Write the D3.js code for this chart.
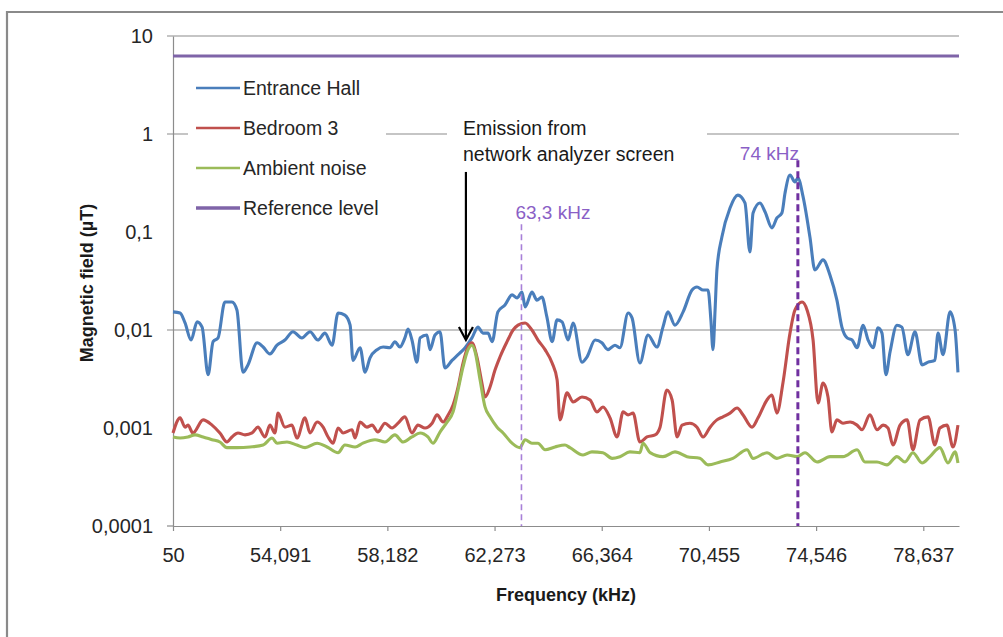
<!DOCTYPE html>
<html><head><meta charset="utf-8">
<script src="https://cdn.jsdelivr.net/npm/d3@7"></script>
<style>
body{margin:0;background:#fff}
svg{display:block}
text{font-family:"Liberation Sans",Arial,sans-serif}
</style>
</head><body>
<svg id="chart" width="1003" height="637"></svg>
<script>
// ---------- data ----------
const xTickValues = [50, 54.091, 58.182, 62.273, 66.364, 70.455, 74.546, 78.637];
const xTickLabels = ["50", "54,091", "58,182", "62,273", "66,364", "70,455", "74,546", "78,637"];
const yTickValues = [10, 1, 0.1, 0.01, 0.001, 0.0001];
const yTickLabels = ["10", "1", "0,1", "0,01", "0,001", "0,0001"];
const gridValues = [10, 1, 0.01];
const seriesNames = ["Entrance Hall", "Bedroom 3", "Ambient noise", "Reference level"];
const seriesColors = ["#4a7ebb", "#c0504d", "#9bbb59", "#7f64a8"];

// [frequency kHz, magnetic field µT]
const entranceHall = [[50.00,0.0153],[50.27,0.0149],[50.46,0.0118],[50.69,0.0079],[50.92,0.0121],[51.11,0.0107],[51.34,0.0035],[51.53,0.0076],[51.72,0.0083],[51.98,0.0193],[52.25,0.0193],[52.44,0.016],[52.67,0.0037],[52.86,0.0044],[53.21,0.0074],[53.44,0.0067],[53.70,0.0057],[53.97,0.0070],[54.27,0.0079],[54.58,0.0096],[54.92,0.0083],[55.23,0.0096],[55.53,0.0079],[55.80,0.0093],[56.07,0.0070],[56.30,0.0149],[56.56,0.0142],[56.76,0.0112],[56.87,0.0049],[57.14,0.0066],[57.33,0.0037],[57.52,0.0052],[57.79,0.0063],[58.02,0.0067],[58.28,0.0066],[58.47,0.0076],[58.66,0.0067],[58.85,0.0083],[58.97,0.0102],[59.12,0.0079],[59.31,0.0047],[59.43,0.0083],[59.69,0.0089],[59.81,0.0063],[60.00,0.0089],[60.19,0.0096],[60.38,0.0041],[60.65,0.0049],[60.88,0.0056],[61.15,0.0066],[61.41,0.0083],[61.64,0.0107],[61.83,0.0093],[62.02,0.0093],[62.18,0.0076],[62.40,0.0153],[62.67,0.018],[62.94,0.0228],[63.13,0.0212],[63.32,0.0244],[63.44,0.0172],[63.70,0.0244],[63.89,0.0202],[64.08,0.0217],[64.27,0.0136],[64.47,0.0076],[64.66,0.0127],[64.85,0.0121],[65.08,0.0079],[65.27,0.0118],[65.61,0.0047],[65.80,0.0053],[66.11,0.0079],[66.37,0.0074],[66.60,0.0063],[66.87,0.0070],[67.06,0.0066],[67.37,0.0149],[67.52,0.0133],[67.82,0.0046],[68.13,0.0089],[68.47,0.0067],[68.70,0.0107],[68.89,0.0153],[69.16,0.0112],[69.47,0.0153],[69.81,0.0256],[70.00,0.0275],[70.23,0.0256],[70.42,0.0256],[70.53,0.0127],[70.61,0.0063],[70.69,0.016],[70.76,0.041],[70.95,0.089],[71.26,0.176],[71.56,0.238],[71.83,0.198],[72.02,0.0625],[72.14,0.156],[72.40,0.198],[72.60,0.16],[72.86,0.11],[73.05,0.139],[73.24,0.156],[73.36,0.25],[73.55,0.382],[73.74,0.324],[73.85,0.356],[74.05,0.228],[74.31,0.089],[74.50,0.041],[74.81,0.052],[75.08,0.036],[75.34,0.0202],[75.53,0.0107],[75.73,0.0083],[75.92,0.0079],[76.11,0.0066],[76.34,0.0112],[76.53,0.0079],[76.72,0.0066],[76.91,0.0105],[77.06,0.0093],[77.21,0.0035],[77.37,0.006],[77.63,0.0112],[77.82,0.0107],[78.05,0.0056],[78.32,0.0096],[78.59,0.0044],[78.82,0.0047],[79.08,0.0049],[79.20,0.0093],[79.39,0.0056],[79.66,0.0153],[79.85,0.01],[79.96,0.0037]];

const bedroom3 = [[50.00,0.00089],[50.27,0.00127],[50.46,0.00102],[50.57,0.00107],[50.76,0.00089],[51.15,0.00121],[51.49,0.00107],[51.79,0.00089],[52.06,0.00072],[52.25,0.00081],[52.48,0.00089],[52.75,0.00085],[53.02,0.00089],[53.24,0.00102],[53.51,0.00081],[53.70,0.00107],[53.89,0.00089],[54.01,0.00142],[54.27,0.00102],[54.54,0.00107],[54.73,0.00079],[55.04,0.00127],[55.23,0.00089],[55.50,0.00115],[55.73,0.00102],[55.92,0.00081],[56.11,0.00070],[56.30,0.00100],[56.49,0.00089],[56.83,0.00096],[56.95,0.00079],[57.14,0.00115],[57.40,0.00102],[57.60,0.00107],[57.82,0.00091],[58.09,0.00112],[58.36,0.00100],[58.59,0.00112],[58.85,0.00130],[59.12,0.00089],[59.35,0.00107],[59.62,0.00100],[59.89,0.00112],[60.08,0.00136],[60.31,0.00115],[60.50,0.00136],[60.69,0.00172],[60.88,0.00262],[61.07,0.0046],[61.26,0.0067],[61.41,0.0074],[61.60,0.0053],[61.79,0.00288],[61.91,0.00207],[62.10,0.00262],[62.29,0.0039],[62.48,0.0053],[62.75,0.0076],[62.98,0.0100],[63.17,0.0112],[63.44,0.0118],[63.70,0.0100],[63.93,0.0079],[64.20,0.0063],[64.47,0.0046],[64.66,0.0031],[64.77,0.00121],[65.04,0.00228],[65.27,0.00184],[65.61,0.00207],[65.92,0.00193],[66.18,0.00146],[66.41,0.00164],[66.68,0.00127],[66.95,0.00081],[67.18,0.00146],[67.37,0.00136],[67.56,0.00142],[67.82,0.00072],[68.09,0.00081],[68.40,0.00085],[68.59,0.00102],[68.85,0.00244],[69.05,0.00193],[69.24,0.00081],[69.43,0.00107],[69.73,0.00112],[70.00,0.00102],[70.23,0.00081],[70.50,0.00102],[70.76,0.00121],[70.99,0.00130],[71.26,0.00142],[71.53,0.00160],[71.76,0.00136],[72.10,0.00102],[72.33,0.00127],[72.67,0.00193],[72.86,0.00217],[73.05,0.00142],[73.28,0.00288],[73.55,0.0093],[73.74,0.0160],[74.01,0.0193],[74.20,0.0160],[74.43,0.0079],[74.62,0.0018],[74.81,0.00288],[75.00,0.00207],[75.15,0.00091],[75.34,0.00121],[75.57,0.00112],[75.84,0.00115],[76.11,0.00107],[76.30,0.00096],[76.60,0.00136],[76.87,0.00096],[77.10,0.00107],[77.29,0.00100],[77.48,0.00067],[77.75,0.00107],[78.02,0.00121],[78.24,0.00060],[78.51,0.00121],[78.82,0.00130],[79.08,0.00067],[79.27,0.00100],[79.54,0.00107],[79.77,0.00064],[79.96,0.00107]];

const ambientNoise = [[50.00,0.00081],[50.27,0.00079],[50.57,0.00081],[50.84,0.00085],[51.15,0.00081],[51.49,0.00076],[51.79,0.00072],[52.06,0.00063],[52.44,0.00063],[52.94,0.00064],[53.44,0.00067],[53.78,0.00079],[53.97,0.00070],[54.35,0.00072],[54.73,0.00067],[55.04,0.00063],[55.50,0.00070],[55.88,0.00064],[56.30,0.00056],[56.56,0.00067],[56.95,0.00064],[57.25,0.00070],[57.71,0.00076],[58.09,0.00072],[58.47,0.00085],[58.78,0.00072],[59.12,0.00081],[59.43,0.00089],[59.73,0.00081],[59.92,0.00070],[60.19,0.00091],[60.46,0.00115],[60.69,0.00146],[60.88,0.00244],[61.07,0.0042],[61.26,0.0063],[61.41,0.0070],[61.53,0.0060],[61.72,0.0031],[61.91,0.00164],[62.10,0.00130],[62.37,0.00102],[62.60,0.00089],[62.94,0.00070],[63.24,0.00063],[63.44,0.00076],[63.70,0.00070],[63.93,0.00070],[64.20,0.00060],[64.58,0.00064],[64.96,0.00067],[65.15,0.00063],[65.65,0.00053],[65.99,0.00057],[66.41,0.00056],[66.76,0.00049],[67.06,0.00051],[67.44,0.00057],[67.82,0.00056],[67.94,0.00070],[68.21,0.00056],[68.70,0.00051],[69.16,0.00057],[69.62,0.00051],[70.11,0.00049],[70.42,0.00042],[70.88,0.00045],[71.37,0.00049],[71.91,0.00060],[72.14,0.00049],[72.67,0.00056],[73.05,0.00049],[73.44,0.00053],[73.82,0.00051],[74.12,0.00056],[74.58,0.00045],[75.08,0.00051],[75.57,0.00051],[76.11,0.00060],[76.41,0.00045],[76.87,0.00045],[77.25,0.00042],[77.63,0.00051],[77.94,0.00045],[78.24,0.00056],[78.59,0.00044],[78.89,0.00051],[79.27,0.00063],[79.58,0.00044],[79.85,0.00057],[79.96,0.00044]];

const referenceLevel = [[50, 6.25], [80, 6.25]];

const markerFreqs = [63.3, 73.85];
const markerTops = [0.12, 0.54];
const markerLabels = ["63,3 kHz", "74 kHz"];
const arrowFreq = 61.18, arrowFrom = 0.41, arrowTo = 0.0079;
const annotationLines = ["Emission from", "network analyzer screen"];

// ---------- drawing ----------
const svg = d3.select("#chart");
const x = d3.scaleLinear().domain([50, 80]).range([173, 959]);
const y = d3.scaleLog().domain([0.0001, 10]).range([526, 36]);
const axisColor = "#8c8c8c";

// outer border
svg.append("path").attr("d", "M7,640 V12 H1010")
  .attr("fill", "none").attr("stroke", "#8a8a8a").attr("stroke-width", 2.2);

// gridlines
svg.append("g").selectAll("line").data(gridValues).join("line")
  .attr("x1", 167).attr("x2", x(80))
  .attr("y1", d => y(d)).attr("y2", d => y(d))
  .attr("stroke", axisColor).attr("stroke-width", 1.2);

// white boxes (legend + annotation)
svg.append("rect").attr("x", 188).attr("y", 66).attr("width", 198).attr("height", 160).attr("fill", "#fff");
svg.append("rect").attr("x", 447).attr("y", 116).attr("width", 260).attr("height", 52).attr("fill", "#fff");

// y axis
const yAxis = d3.axisLeft(y).tickValues(yTickValues)
  .tickFormat((d, i) => yTickLabels[i]).tickSize(0).tickPadding(20);
const gy = svg.append("g").attr("transform", "translate(173,0)").call(yAxis);
gy.select(".domain").attr("stroke", axisColor).attr("stroke-width", 1.2);
gy.selectAll("text").attr("font-size", 20).attr("fill", "#262626")
  .attr("font-family", "'Liberation Sans', Arial, sans-serif");
svg.append("line").attr("x1", 167).attr("x2", 173).attr("y1", y(0.0001)).attr("y2", y(0.0001))
  .attr("stroke", axisColor).attr("stroke-width", 1.2);

// x axis
const xAxis = d3.axisBottom(x).tickValues(xTickValues)
  .tickFormat((d, i) => xTickLabels[i]).tickSizeInner(5).tickSizeOuter(0).tickPadding(17);
const gx = svg.append("g").attr("transform", `translate(0,${y(0.0001)})`).call(xAxis);
gx.select(".domain").attr("stroke", axisColor).attr("stroke-width", 1.2);
gx.selectAll(".tick line").attr("stroke", axisColor).attr("stroke-width", 1.2);
gx.selectAll("text").attr("font-size", 20).attr("fill", "#262626")
  .attr("font-family", "'Liberation Sans', Arial, sans-serif");

// axis titles
svg.append("text").attr("x", 566).attr("y", 601).attr("text-anchor", "middle")
  .attr("font-size", 18).attr("font-weight", "bold").attr("fill", "#1a1a1a").text("Frequency (kHz)");
svg.append("text").attr("transform", "translate(93,283) rotate(-90)").attr("text-anchor", "middle")
  .attr("font-size", 18).attr("font-weight", "bold").attr("fill", "#1a1a1a").text("Magnetic field (µT)");

// series
const line = d3.line().x(d => x(d[0])).y(d => y(d[1])).curve(d3.curveMonotoneX);
const allSeries = [entranceHall, bedroom3, ambientNoise];
svg.append("g").selectAll("path").data(allSeries).join("path")
  .attr("d", line).attr("fill", "none")
  .attr("stroke", (d, i) => seriesColors[i]).attr("stroke-width", 3.1)
  .attr("stroke-linejoin", "round");
svg.append("path").datum(referenceLevel).attr("d", d3.line().x(d => x(d[0])).y(d => y(d[1])))
  .attr("fill", "none").attr("stroke", seriesColors[3]).attr("stroke-width", 3.2);

// marker dashed lines
svg.append("line").attr("x1", x(markerFreqs[0])).attr("x2", x(markerFreqs[0]))
  .attr("y1", y(markerTops[0])).attr("y2", y(0.0001))
  .attr("stroke", "#a880d8").attr("stroke-width", 1.6).attr("stroke-dasharray", "6,4");
svg.append("line").attr("x1", x(markerFreqs[1])).attr("x2", x(markerFreqs[1]))
  .attr("y1", y(markerTops[1])).attr("y2", y(0.0001))
  .attr("stroke", "#7030a0").attr("stroke-width", 3).attr("stroke-dasharray", "7,4");
svg.append("text").attr("x", x(markerFreqs[0]) - 6).attr("y", y(markerTops[0]) - 5)
  .attr("font-size", 19).attr("fill", "#8a5fc6").text(markerLabels[0]);
svg.append("text").attr("x", x(markerFreqs[1]) - 58).attr("y", y(markerTops[1]))
  .attr("font-size", 19).attr("fill", "#8a5fc6").text(markerLabels[1]);

// arrow annotation
const ax = x(arrowFreq), ay1 = y(arrowFrom), ay2 = y(arrowTo);
svg.append("line").attr("x1", ax).attr("x2", ax).attr("y1", ay1).attr("y2", ay2 - 1)
  .attr("stroke", "#000").attr("stroke-width", 2.2);
svg.append("path").attr("d", `M${ax - 7},${ay2 - 13} L${ax},${ay2} L${ax + 7},${ay2 - 13}`)
  .attr("fill", "none").attr("stroke", "#000").attr("stroke-width", 2.2);
svg.append("g").selectAll("text").data(annotationLines).join("text")
  .attr("x", 463).attr("y", (d, i) => 135 + i * 26)
  .attr("font-size", 19.5).attr("fill", "#1a1a1a").text(d => d);

// legend
const lg = svg.append("g").selectAll("g").data(seriesNames).join("g")
  .attr("transform", (d, i) => `translate(196,${88 + i * 40})`);
lg.append("line").attr("x1", 0).attr("x2", 44).attr("y1", 0).attr("y2", 0)
  .attr("stroke", (d, i) => seriesColors[i]).attr("stroke-width", (d, i) => i === 3 ? 3.5 : 2.6);
lg.append("text").attr("x", 47).attr("y", 7).attr("font-size", 19.5).attr("fill", "#262626").text(d => d);
</script>
</body></html>
